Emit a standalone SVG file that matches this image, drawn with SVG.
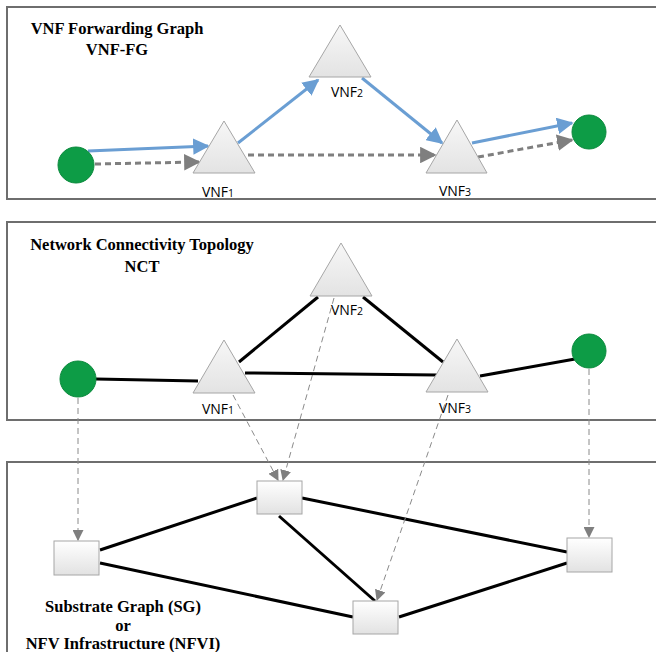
<svg xmlns="http://www.w3.org/2000/svg" width="656" height="652" viewBox="0 0 656 652">
<defs>
<linearGradient id="triG" x1="0" y1="0" x2="0" y2="1"><stop offset="0" stop-color="#f7f7f7"/><stop offset="1" stop-color="#e3e3e3"/></linearGradient>
<linearGradient id="boxG" x1="0" y1="0" x2="0" y2="1"><stop offset="0" stop-color="#ffffff"/><stop offset="1" stop-color="#e2e2e2"/></linearGradient>
<marker id="aBlue" viewBox="0 0 10 10" refX="9" refY="5" markerWidth="5.5" markerHeight="5.5" orient="auto" markerUnits="strokeWidth"><path d="M0,0 L10,5 L0,10 z" fill="#6a9ed3"/></marker>
<marker id="aGray" viewBox="0 0 10 10" refX="9" refY="5" markerWidth="5.5" markerHeight="5.5" orient="auto" markerUnits="strokeWidth"><path d="M0,0 L10,5 L0,10 z" fill="#7f7f7f"/></marker>
<marker id="aThin" viewBox="0 0 10 10" refX="9" refY="5" markerWidth="11" markerHeight="11" orient="auto" markerUnits="strokeWidth"><path d="M0,0 L10,5 L0,10 z" fill="#7f7f7f"/></marker>
</defs>
<style>
.panel{fill:#ffffff;stroke:#6e6e6e;stroke-width:2}
.title{font-family:"Liberation Serif","Times New Roman",serif;font-weight:bold;font-size:16.5px;fill:#000;text-anchor:middle}
.lbl{font-family:"Open Sans","Liberation Sans",sans-serif;font-size:14px;fill:#000;text-anchor:middle}
.sub{font-size:10.5px}
.tri{fill:url(#triG);stroke:#a6a6a6;stroke-width:1}
.dot{fill:#0d9c46;stroke:#0b8a3d;stroke-width:1}
.box{fill:url(#boxG);stroke:#a6a6a6;stroke-width:1}
.blue{stroke:#6a9ed3;stroke-width:3;fill:none;marker-end:url(#aBlue)}
.gdash{stroke:#7f7f7f;stroke-width:3;stroke-dasharray:6,4;fill:none;marker-end:url(#aGray)}
.black{stroke:#000;stroke-width:3;fill:none}
.thin{stroke:#8a8a8a;stroke-width:1;stroke-dasharray:6,4;fill:none;marker-end:url(#aThin)}
</style>
<rect width="656" height="652" fill="#ffffff"/>
<g id="panel-vnffg">
<rect class="panel" x="7" y="7" width="650" height="192"/>
<text class="title" x="117" y="34">VNF Forwarding Graph</text>
<text class="title" x="117" y="55">VNF-FG</text>
</g>
<g id="panel-nct">
<rect class="panel" x="7" y="222" width="650" height="198"/>
<text class="title" x="142" y="250">Network Connectivity Topology</text>
<text class="title" x="142" y="272">NCT</text>
</g>
<g id="panel-sg">
<rect class="panel" x="7" y="462" width="650" height="195"/>
<text class="title" x="123" y="612">Substrate Graph (SG)</text>
<text class="title" x="123" y="631">or</text>
<text class="title" x="123" y="649">NFV Infrastructure (NFVI)</text>
</g>
<g id="connectors">
<line class="blue" x1="88" y1="151" x2="208" y2="146"/>
<line class="blue" x1="238" y1="143" x2="318" y2="80"/>
<line class="blue" x1="362" y1="78" x2="442" y2="143"/>
<line class="blue" x1="472" y1="143" x2="572" y2="123"/>
<line class="gdash" x1="95" y1="164" x2="199" y2="162"/>
<line class="gdash" x1="248" y1="155" x2="435" y2="155"/>
<line class="gdash" x1="478" y1="157" x2="572" y2="140"/>
<line class="black" x1="96" y1="379" x2="198" y2="381"/>
<line class="black" x1="239" y1="362" x2="318" y2="297"/>
<line class="black" x1="245" y1="373" x2="437" y2="375"/>
<line class="black" x1="363" y1="297" x2="443" y2="362"/>
<line class="black" x1="480" y1="376" x2="575" y2="359"/>
<line class="black" x1="100" y1="550" x2="257" y2="498"/>
<line class="black" x1="100" y1="563" x2="353" y2="617"/>
<line class="black" x1="302" y1="498" x2="567" y2="552"/>
<line class="black" x1="279" y1="516" x2="375" y2="601"/>
<line class="black" x1="399" y1="617" x2="567" y2="563"/>
<line class="thin" x1="78" y1="398" x2="78" y2="540"/>
<line class="thin" x1="233" y1="395" x2="278" y2="480"/>
<line class="thin" x1="334" y1="298" x2="283" y2="480"/>
<line class="thin" x1="448" y1="395" x2="377" y2="600"/>
<line class="thin" x1="589" y1="369" x2="589" y2="537"/>
</g>
<g id="fg-src"><circle class="dot" cx="76" cy="165" r="18"/></g>
<g id="fg-vnf1"><polygon class="tri" points="224,121 193,173 255,173"/><text class="lbl" x="218" y="197">VNF<tspan class="sub">1</tspan></text></g>
<g id="fg-vnf2"><polygon class="tri" points="340,25 309,77 371,77"/><text class="lbl" x="347" y="97">VNF<tspan class="sub">2</tspan></text></g>
<g id="fg-vnf3"><polygon class="tri" points="457,120 426,173 487,173"/><text class="lbl" x="455" y="196">VNF<tspan class="sub">3</tspan></text></g>
<g id="fg-dst"><circle class="dot" cx="589" cy="132" r="17"/></g>
<g id="nct-src"><circle class="dot" cx="78" cy="379" r="18"/></g>
<g id="nct-vnf1"><polygon class="tri" points="224,340 193,393 255,393"/><text class="lbl" x="218" y="414">VNF<tspan class="sub">1</tspan></text></g>
<g id="nct-vnf2"><polygon class="tri" points="341,243 310,296 372,296"/><text class="lbl" x="347" y="315">VNF<tspan class="sub">2</tspan></text></g>
<g id="nct-vnf3"><polygon class="tri" points="457,339 426,392 488,392"/><text class="lbl" x="455" y="413">VNF<tspan class="sub">3</tspan></text></g>
<g id="nct-dst"><circle class="dot" cx="589" cy="351" r="17"/></g>
<g id="sg-n1"><rect class="box" x="54" y="541" width="45" height="34"/></g>
<g id="sg-n2"><rect class="box" x="257" y="481" width="45" height="33"/></g>
<g id="sg-n3"><rect class="box" x="353" y="601" width="45" height="33"/></g>
<g id="sg-n4"><rect class="box" x="567" y="538" width="45" height="34"/></g>
</svg>
